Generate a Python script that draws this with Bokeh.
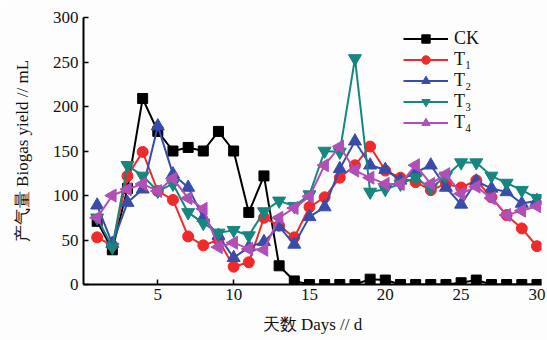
from bokeh.plotting import figure
from bokeh.models import Legend, LegendItem, Range1d, FixedTicker
from bokeh.embed import file_html
from bokeh.resources import INLINE

days = list(range(1, 31))
ck = [71, 39, 108, 209, 172, 150, 154, 150, 172, 150, 81, 122, 21, 4, 0, 0, 0, 0, 6, 5,
      0, 0, 0, 0, 2, 5, 0, 0, 0, 0]
t1 = [53, 44, 122, 149, 105, 95, 54, 44, 50, 20, 25, 75, 66, 53, 87, 98, 120, 134, 155, 128,
      120, 115, 106, 113, 109, 117, 98, 78, 63, 43]
t2 = [89, 46, 92, 107, 178, 124, 109, 75, 55, 30, 42, 48, 65, 45, 76, 87, 130, 161, 134, 129,
      117, 126, 134, 109, 90, 116, 108, 104, 91, 94]
t3 = [75, 42, 134, 122, 105, 113, 81, 69, 58, 61, 55, 82, 94, 88, 101, 150, 149, 254, 104, 107,
      113, 120, 108, 122, 137, 137, 122, 114, 106, 97]
t4 = [75, 100, 107, 113, 105, 119, 97, 85, 42, 47, 40, 39, 75, 86, 99, 134, 155, 128, 120, 113,
      113, 134, 113, 124, 102, 110, 97, 78, 83, 88]

series_names = ["CK", "T\u2081", "T\u2082", "T\u2083", "T\u2084"]
x_ticks = [5, 10, 15, 20, 25, 30]
y_ticks = [0, 50, 100, 150, 200, 250, 300]

colors = ["#000000", "#ee2a2a", "#3a4ca8", "#16867e", "#b04fb8"]
markers = ["square", "circle", "triangle", "inverted_triangle", "triangle"]
sizes = [10, 11, 13, 13, 13]
angles = [0, 0, 0, 0, 1.5708]

FONT = "Liberation Serif"

p = figure(width=547, height=340, output_backend="svg", toolbar_location=None,
           x_range=Range1d(0.1, 30.3), y_range=Range1d(0, 300),
           min_border_left=83, min_border_right=6, min_border_top=17, min_border_bottom=56)
p.outline_line_color = None
p.xgrid.visible = False
p.ygrid.visible = False
p.background_fill_color = "#fdfdfd"
p.border_fill_color = "#fdfdfd"

for ax in (p.xaxis[0], p.yaxis[0]):
    ax.axis_line_width = 2
    ax.axis_line_color = "#000000"
    ax.major_tick_in = 5
    ax.major_tick_out = 0
    ax.major_tick_line_width = 1.5
    ax.minor_tick_line_color = None
    ax.major_label_text_font = FONT
    ax.major_label_text_font_size = "17px"
    ax.major_label_text_color = "#111111"
    ax.axis_label_text_font = FONT
    ax.axis_label_text_font_size = "17px"
    ax.axis_label_text_font_style = "normal"
    ax.axis_label_text_color = "#111111"

p.xaxis[0].ticker = FixedTicker(ticks=x_ticks)
p.yaxis[0].ticker = FixedTicker(ticks=y_ticks)
p.xaxis[0].major_label_standoff = 4
p.yaxis[0].major_label_standoff = 5
p.xaxis[0].axis_label = "天数 Days // d"
p.yaxis[0].axis_label = "产气量 Biogas yield // mL"
p.xaxis[0].axis_label_standoff = 12
p.yaxis[0].axis_label_standoff = 18

items = []
for name, ys, c, m, s, a in zip(series_names, [ck, t1, t2, t3, t4], colors, markers, sizes, angles):
    r1 = p.line(days, ys, line_color=c, line_width=2)
    r2 = p.scatter(days, ys, marker=m, size=s, angle=a, fill_color=c, line_color=c)
    items.append(LegendItem(label=name, renderers=[r1, r2]))

legend = Legend(items=items, location=(320, 151), border_line_color=None,
                background_fill_alpha=0, padding=0, margin=0, spacing=0,
                glyph_width=45, glyph_height=21, label_height=21, label_standoff=6,
                label_text_font=FONT, label_text_font_size="18px", label_text_color="#111111")
p.add_layout(legend, "center")

open("out.html", "w").write(file_html(p, INLINE))
